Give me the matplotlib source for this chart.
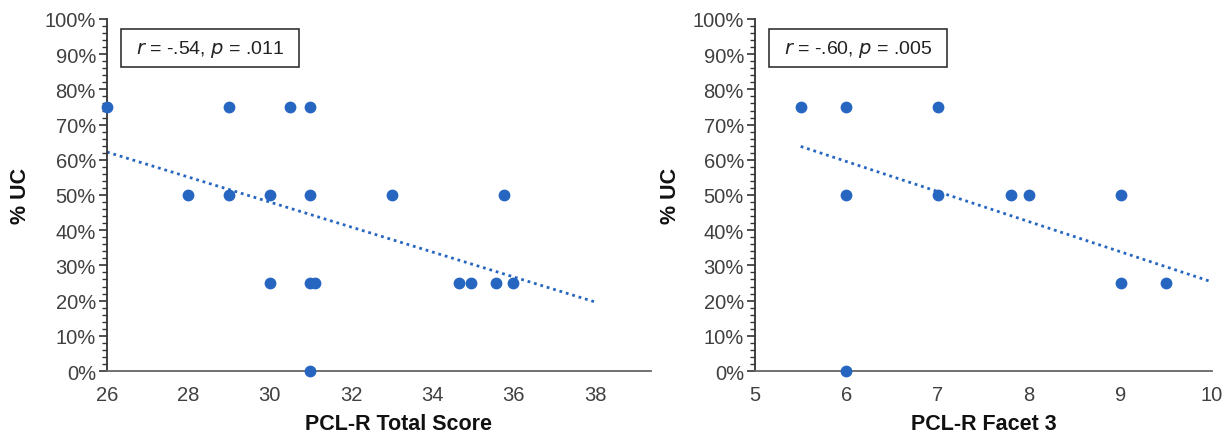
import matplotlib
matplotlib.use("Agg")
import matplotlib.pyplot as plt
from matplotlib.ticker import MultipleLocator, FuncFormatter
from matplotlib.patches import Rectangle

plt.rcParams['font.family'] = ['Liberation Sans', 'DejaVu Sans']

# left panel: PCL-R total score vs % UC
total_x = [26, 29, 30.5, 31, 28, 29, 30, 31, 33, 35.75,
           30, 31, 31.1, 34.65, 34.95, 35.55, 35.97, 31]
total_y = [75, 75, 75, 75, 50, 50, 50, 50, 50, 50,
           25, 25, 25, 25, 25, 25, 25, 0]
total_trend_x = [26, 38]
total_trend_y = [62.2, 19.6]
total_stats = "r = -.54, p = .011"

# right panel: PCL-R facet 3 vs % UC
facet_x = [5.5, 6, 7, 6, 7, 7.8, 8, 9, 9, 9.5, 6]
facet_y = [75, 75, 75, 50, 50, 50, 50, 50, 25, 25, 0]
facet_trend_x = [5.5, 10]
facet_trend_y = [63.8, 25.3]
facet_stats = "r = -.60, p = .005"

W, H = 1226, 439
blue = '#2766C0'
grey = '#404040'

fig = plt.figure(figsize=(W / 100, H / 100), dpi=100)


def px_axes(x0, x1, y0, y1):
    return fig.add_axes([x0 / W, 1 - y1 / H, (x1 - x0) / W, (y1 - y0) / H])


def style(ax, xlim, xticks, xlabel, xlab_pos):
    ax.set_xlim(*xlim)
    ax.set_ylim(0, 100)
    ax.set_xticks(xticks)
    ax.yaxis.set_major_locator(MultipleLocator(10))
    ax.yaxis.set_minor_locator(MultipleLocator(2))
    ax.yaxis.set_major_formatter(FuncFormatter(lambda v, p: "%d%%" % v))
    for s in ['top', 'right']:
        ax.spines[s].set_visible(False)
    ax.spines['left'].set_color('#333333')
    ax.spines['bottom'].set_color('#666666')
    ax.spines['left'].set_linewidth(1.3)
    ax.spines['bottom'].set_linewidth(1.3)
    ax.tick_params(axis='x', length=0, pad=10, labelsize=14.5, labelcolor=grey)
    ax.tick_params(axis='y', which='major', length=6, width=1.2,
                   color='#333333', labelsize=14.5, labelcolor=grey, pad=2)
    ax.tick_params(axis='y', which='minor', length=3.5, width=1.0,
                   color='#333333')
    ax.set_xlabel(xlabel, fontsize=15.5, fontweight='bold', color='#111111')
    ax.xaxis.set_label_coords(xlab_pos, -0.118)
    ax.set_ylabel('% UC', fontsize=15.5, fontweight='bold', color='#111111')


def stats_box(x0, y0, txt):
    fig.patches.append(Rectangle((x0 / W, 1 - (y0 + 38) / H), 178 / W, 38 / H,
                                 transform=fig.transFigure, fill=False,
                                 edgecolor='#333333', linewidth=1.2))
    r, p = txt.split(', ')
    s = "$\\it{r}$" + r[1:] + ", $\\it{p}$" + p[1:]
    fig.text((x0 + 89) / W, 1 - (y0 + 19) / H, s, fontsize=14, color='#222222',
             ha='center', va='center')


ax1 = px_axes(107, 651, 20, 372)
ax1.scatter(total_x, total_y, s=56, color=blue, zorder=3, clip_on=False)
ax1.plot(total_trend_x, total_trend_y, color=blue, lw=2.0,
         linestyle=(0, (1, 1.4)))
style(ax1, (26, 39.37), range(26, 39, 2), 'PCL-R Total Score', 0.535)
ax1.yaxis.set_label_coords(-0.14, 0.5)
stats_box(121, 30, total_stats)

ax2 = px_axes(755, 1212, 20, 372)
ax2.scatter(facet_x, facet_y, s=56, color=blue, zorder=3, clip_on=False)
ax2.plot(facet_trend_x, facet_trend_y, color=blue, lw=2.0,
         linestyle=(0, (1, 1.4)))
style(ax2, (5, 10), range(5, 11), 'PCL-R Facet 3', 0.5)
ax2.yaxis.set_label_coords(-0.162, 0.5)
stats_box(769, 30, facet_stats)

fig.savefig('out.png', dpi=100)
